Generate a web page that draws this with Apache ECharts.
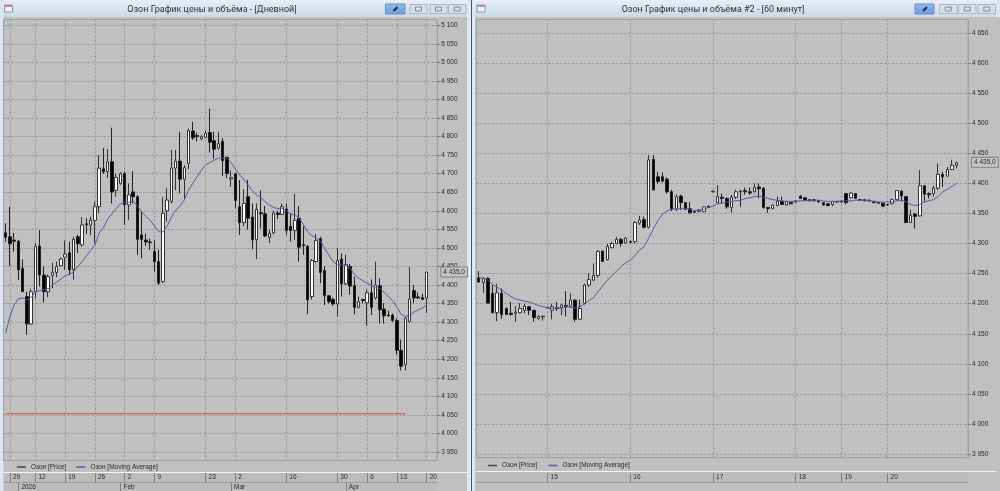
<!DOCTYPE html>
<html><head><meta charset="utf-8">
<style>html,body{margin:0;padding:0;background:#c0c0c0}#c{width:1000px;height:491px}</style>
<script src="https://cdn.jsdelivr.net/npm/echarts@6/dist/echarts.min.js"></script>
</head><body><div id="c"></div>
<script>
// rows: [open, close, low, high]
const dailyCandles = [
[4541,4529,4517,4566],[4530,4511,4451,4611],[4521,4518,4490,4540],[4518,4441,4414,4522],[4445,4382,4382,4469],
[4369,4295,4266,4382],[4295,4382,4292,4390],[4382,4504,4364,4513],[4505,4427,4396,4548],[4427,4382,4353,4450],
[4382,4423,4367,4428],[4426,4434,4391,4460],[4434,4450,4421,4463],[4452,4470,4450,4474],[4475,4483,4441,4520],
[4487,4441,4427,4517],[4441,4523,4414,4530],[4530,4511,4486,4535],[4508,4562,4503,4583],[4565,4562,4538,4580],
[4561,4575,4535,4584],[4574,4611,4512,4625],[4611,4715,4593,4750],[4713,4705,4699,4769],[4706,4732,4688,4766],
[4732,4651,4620,4824],[4655,4690,4638,4700],[4674,4700,4670,4704],[4700,4616,4562,4706],[4616,4643,4575,4674],
[4651,4638,4620,4707],[4638,4523,4481,4642],[4535,4523,4472,4598],[4521,4516,4505,4538],[4516,4514,4495,4525],
[4490,4463,4436,4520],[4463,4405,4400,4495],[4409,4593,4405,4637],[4600,4629,4571,4661],[4625,4715,4620,4764],
[4715,4734,4656,4764],[4734,4685,4647,4813],[4685,4716,4629,4723],[4728,4816,4712,4822],[4815,4797,4791,4840],
[4803,4800,4787,4810],[4794,4800,4790,4804],[4798,4809,4795,4816],[4811,4785,4757,4875],[4789,4766,4739,4813],
[4769,4781,4764,4813],[4787,4735,4694,4796],[4744,4700,4688,4746],[4686,4689,4665,4709],[4700,4628,4607,4702],
[4611,4568,4535,4683],[4568,4620,4559,4658],[4638,4580,4549,4683],[4583,4522,4496,4620],[4522,4604,4470,4620],
[4595,4592,4553,4655],[4592,4532,4530,4613],[4528,4539,4513,4549],[4541,4594,4536,4600],[4594,4590,4578,4600],
[4590,4611,4589,4620],[4605,4547,4535,4620],[4558,4547,4517,4594],[4547,4574,4522,4646],[4580,4502,4463,4613],
[4509,4506,4481,4558],[4504,4360,4322,4508],[4369,4466,4361,4470],[4463,4520,4460,4537],[4525,4434,4405,4530],
[4439,4371,4346,4450],[4371,4355,4350,4372],[4361,4349,4344,4366],[4349,4466,4315,4499],[4470,4403,4369,4485],
[4403,4455,4400,4482],[4450,4397,4374,4457],[4398,4340,4321,4423],[4340,4355,4337,4369],[4361,4358,4350,4363],
[4352,4379,4290,4388],[4379,4340,4319,4415],[4365,4400,4361,4463],[4398,4333,4296,4418],[4335,4317,4296,4351],
[4319,4317,4315,4331],[4319,4304,4301,4323],[4304,4224,4212,4310],[4224,4181,4170,4253],[4185,4311,4170,4315],
[4302,4362,4298,4448],[4385,4365,4351,4400],[4368,4365,4362,4380],[4366,4361,4359,4376],[4365,4435,4325,4435]
];
const dailyMA = [
4270,4315,4346,4363,4365,4360,4367,4381,4385,4387,4390,4400,4408,4416,4425,4429,4436,4450,4463,4478,
4493,4508,4540,4555,4578,4592,4606,4619,4621,4623,4626,4613,4597,4585,4574,4559,4544,4543,4559,4583,
4601,4613,4629,4655,4674,4692,4710,4723,4730,4736,4742,4742,4742,4730,4713,4697,4685,4670,4654,4643,
4636,4625,4616,4609,4606,4606,4600,4591,4590,4581,4563,4543,4533,4527,4519,4499,4481,4463,4455,4454,
4452,4445,4429,4419,4411,4405,4399,4393,4391,4380,4369,4358,4340,4321,4315,4319,4327,4333,4338,4346
];
const dailyTickIndex = [1,7,14,21,28,35,47,54,66,78,85,92,99];
const dailyTickLabels = ['29','12','19','26','2','9','23','2','16','30','6','13','20'];
const dailyMonthIndex = [3,27,53,80];
const dailyMonthLabels = ['2026','Feb','Mar','Apr'];
const dailySupportLevels = [4053,4053];
const dailySupportIndex = [0,94];
const dailyPriceTicks = [3950,4000,4050,4100,4150,4200,4250,4300,4350,4400,4450,4500,4550,4600,4650,4700,4750,4800,4850,4900,4950,5000,5050,5100];

const hourlyCandles = [
[4243,4236,4235,4254],[4235,4242,4218,4244],[4242,4201,4200,4244],[4217,4185,4184,4231],[4185,4218,4171,4233],
[4217,4182,4175,4225],[4192,4182,4181,4194],[4184,4182,4180,4203],[4184,4186,4170,4196],[4185,4192,4184,4201],
[4189,4196,4184,4200],[4195,4189,4181,4196],[4189,4177,4170,4190],[4175,4179,4174,4181],[4178,4179,4172,4180],
[4193,4194,4192,4195],[4189,4195,4174,4200],[4193,4192,4188,4203],[4193,4198,4181,4200],[4197,4195,4179,4221],
[4196,4206,4194,4217],[4206,4174,4170,4207],[4174,4192,4173,4207],[4201,4231,4199,4233],[4231,4240,4228,4251],
[4239,4247,4238,4267],[4247,4287,4243,4289],[4287,4270,4270,4289],[4273,4295,4272,4300],[4293,4300,4292,4303],
[4300,4307,4299,4311],[4307,4300,4295,4309],[4301,4309,4300,4311],[4303,4302,4301,4305],[4303,4335,4300,4337],
[4334,4339,4331,4346],[4340,4327,4325,4345],[4327,4439,4325,4447],[4440,4389,4389,4447],[4411,4403,4400,4419],
[4411,4404,4401,4418],[4407,4386,4383,4410],[4386,4357,4354,4389],[4357,4378,4354,4382],[4379,4368,4356,4381],
[4368,4357,4356,4369],[4358,4351,4350,4369],[4353,4352,4351,4354],[4353,4356,4352,4357],[4353,4361,4352,4362],
[4362,4360,4359,4363],[4386,4387,4385,4388],[4368,4378,4367,4397],[4377,4375,4367,4383],[4375,4361,4358,4377],
[4360,4377,4351,4381],[4377,4386,4374,4389],[4387,4386,4361,4389],[4388,4386,4381,4393],[4386,4384,4381,4393],
[4386,4393,4385,4400],[4394,4391,4375,4400],[4392,4360,4358,4394],[4360,4358,4351,4361],[4358,4364,4357,4365],
[4363,4370,4362,4378],[4370,4365,4364,4378],[4364,4370,4363,4371],[4368,4366,4365,4369],[4369,4371,4368,4372],
[4379,4375,4374,4380],[4376,4372,4371,4377],[4373,4371,4370,4374],[4373,4371,4370,4374],[4371,4369,4368,4372],
[4368,4364,4363,4369],[4366,4363,4362,4367],[4365,4370,4362,4371],[4370,4369,4368,4371],[4370,4369,4368,4371],
[4383,4368,4365,4384],[4376,4384,4375,4385],[4383,4375,4374,4384],[4373,4372,4371,4374],[4373,4371,4370,4374],
[4372,4371,4370,4373],[4370,4368,4367,4371],[4368,4367,4366,4369],[4367,4362,4361,4368],[4365,4364,4363,4366],
[4366,4373,4365,4375],[4373,4388,4372,4389],[4387,4379,4370,4389],[4378,4335,4334,4379],[4335,4347,4334,4356],
[4349,4345,4325,4351],[4346,4396,4345,4422],[4396,4382,4370,4397],[4383,4381,4375,4385],[4383,4392,4378,4396],
[4392,4415,4389,4433],[4415,4411,4394,4419],[4412,4423,4411,4427],[4423,4430,4422,4439],[4430,4434,4425,4436]
];
const hourlyMA = [
4243,4242,4239,4232,4228,4222,4217,4212,4208,4206,4204,4203,4200,4197,4195,4193,4192,4193,4193,4195,
4194,4193,4195,4199,4205,4210,4220,4230,4239,4247,4254,4262,4268,4272,4280,4289,4295,4309,4324,4338,
4349,4354,4357,4358,4358,4358,4357,4355,4355,4357,4360,4362,4366,4367,4369,4370,4371,4372,4375,4376,
4378,4379,4377,4375,4373,4372,4371,4370,4370,4370,4371,4371,4372,4372,4372,4371,4370,4370,4370,4371,
4371,4371,4372,4372,4372,4371,4370,4369,4369,4369,4369,4371,4372,4370,4365,4363,4365,4369,4371,4373,
4378,4386,4390,4395,4400
];
const hourlyTickIndex = [15,33,51,69,79,89];
const hourlyTickLabels = ['15','16','17','18','19','20'];
const hourlyPriceTicks = [3950,4000,4050,4100,4150,4200,4250,4300,4350,4400,4450,4500,4550,4600,4650];
const lastPrice = 4435;
const lastPriceLabel = '4 435,0';

const dailyBands = 102, hourlyBands = 107;
const priceName = 'Озон [Price]', maName = 'Озон [Moving Average]';
const dailyTitle = 'Озон График цены и объёма - [Дневной]';
const hourlyTitle = 'Озон График цены и объёма #2 - [60 минут]';

const FONT = '"Liberation Sans",sans-serif';
const TXT = '#2a2a2a';
const GRID = '#949494';
const MA = '#5a58a8';
const range = n => Array.from({length:n},(_,i)=>String(i));
const fmtTick = v => { const s = String(v); return s.slice(0,1)+' '+s.slice(1); };

function xAxes(grid, bands, tickIdx, tickLbl, monthIdx, monthLbl, stripOffset){
  const inT = i => tickIdx.includes(+i);
  const axes = [{
    type:'category',gridIndex:grid,data:range(bands),
    axisLine:{show:true,lineStyle:{color:'#a2a2a2'}},axisTick:{show:false},axisLabel:{show:false},
    splitLine:{show:true,alignWithLabel:true,interval:inT,lineStyle:{color:GRID,type:[2,2],width:1}}
  },{
    type:'category',gridIndex:grid,position:'bottom',offset:stripOffset,data:range(bands),
    axisLine:{show:false},
    axisTick:{show:true,alignWithLabel:true,length:9,interval:inT,lineStyle:{color:'#808080'}},
    axisLabel:{show:true,interval:inT,margin:1,align:'left',padding:[0,0,0,3],fontSize:6.5,fontFamily:FONT,color:TXT,
      formatter:(v)=>tickLbl[tickIdx.indexOf(+v)]}
  }];
  if(monthIdx){
    const inM = i => monthIdx.includes(+i);
    axes.push({
      type:'category',gridIndex:grid,position:'bottom',offset:stripOffset+9.5,data:range(bands),
      axisLine:{show:false},
      axisTick:{show:true,alignWithLabel:true,length:9,interval:inM,lineStyle:{color:'#808080'}},
      axisLabel:{show:true,interval:inM,margin:1,align:'left',padding:[0,0,0,3],fontSize:6.5,fontFamily:FONT,color:TXT,
        formatter:(v)=>monthLbl[monthIdx.indexOf(+v)]}
    });
  }
  return axes;
}
function yAxis(grid,min,max,ticks){
  return {type:'value',gridIndex:grid,position:'right',min,max,
    axisLine:{show:true,lineStyle:{color:'#a2a2a2'}},
    axisTick:{show:true,length:3,customValues:ticks,lineStyle:{color:'#808080'}},
    axisLabel:{margin:4,fontSize:6.5,fontFamily:FONT,color:TXT,customValues:ticks,formatter:fmtTick},
    splitLine:{show:true,lineStyle:{color:GRID,type:[2,2],width:1}}};
}
const candleStyle = {color:'#ffffff',color0:'#000000',borderColor:'#333333',borderColor0:'#222222',borderWidth:1};
const tag = {
  symbol:'none',silent:true,animation:false,
  data:[{yAxis:lastPrice}],
  lineStyle:{color:'transparent',width:0,opacity:1},
  label:{show:true,position:'end',distance:4,opacity:1,formatter:()=>lastPriceLabel,fontSize:6.5,fontFamily:FONT,color:TXT,
    borderColor:'#808080',borderWidth:1,padding:[1,2,1,2],backgroundColor:'#c4c4c4'}
};
const xa = [].concat(
  xAxes(0,dailyBands,dailyTickIndex,dailyTickLabels,dailyMonthIndex,dailyMonthLabels,12.5),
  xAxes(1,hourlyBands,hourlyTickIndex,hourlyTickLabels,null,null,15.3)
);
const hourlyX = 3;

// window chrome
const R = (x,y,w,h,fill,z,stroke)=>({type:'rect',silent:true,z:z||0,shape:{x,y,width:w,height:h},style:{fill,stroke:stroke||null,lineWidth:stroke?1:0}});
const bar = {type:'linear',x:0,y:0,x2:0,y2:1,colorStops:[{offset:0,color:'#e6eef7'},{offset:1,color:'#ccd8e6'}]};
const blue = {type:'linear',x:0,y:0,x2:0,y2:1,colorStops:[{offset:0,color:'#8fbaf0'},{offset:1,color:'#6d9de0'}]};
const chrome = [
  R(0,0,1000,17,bar,-5),
  R(0,0,3.5,491,'#dbe6f2',-5), R(467,0,8,491,'#dfe9f4',-5), R(471,0,1,491,'#50555c',-4),
  R(996,0,4,17,'#dbe6f2',-5),
  R(4,472,463,1,'#f4f4f4',-3), R(476,471,520,1,'#f4f4f4',-3),
  R(4,482,433,1,'#9c9c9c',-3), R(476,482,492,1,'#9c9c9c',-3),
  R(4,473,433,9,'#bcbcbc',-4), R(476,472,492,10,'#bcbcbc',-4),
  R(4,483,433,8,'#bcbcbc',-4)
];
[[385.5,4,19.5,10],[915,4,19,10]].forEach(b=>{
  chrome.push(R(b[0],b[1],b[2],b[3],blue,1,'#6f8fba'));
  chrome.push({type:'line',silent:true,z:2,shape:{x1:b[0]+8,y1:b[1]+7,x2:b[0]+12,y2:b[1]+3},style:{stroke:'#1d2a44',lineWidth:2}});
});
[[410,17],[430,17],[448.5,17.5],[939.5,17.5],[958.5,17.5],[978,17.5]].forEach(b=>{
  chrome.push(R(b[0],4.5,b[1],9,'#d6e0ec',1,'#a9b6c6'));
  chrome.push(R(b[0]+b[1]/2-3,7,6,4,'#d6e0ec',2,'#7f8a98'));
});
[3.5,476].forEach(x=>{
  chrome.push(R(x+1,5,8,7,'#eef3f9',1,'#8494a8'));
  chrome.push(R(x+1,5,8,2,'#c98d8d',2));
});

const legendText = {fontSize:6.5,color:TXT,fontFamily:FONT};
const legendData = [{name:priceName,itemStyle:{color:'#444',borderWidth:0}},{name:maName,itemStyle:{color:MA,borderWidth:0}}];
const titleText = {fontSize:9,fontWeight:'normal',color:'#333',fontFamily:'Roboto,sans-serif'};

const chart = echarts.init(document.getElementById('c'),null,{renderer:'canvas'});
chart.setOption({
  animation:false,
  backgroundColor:'#c0c0c0',
  textStyle:{fontFamily:FONT},
  title:[
    {text:dailyTitle,left:212,top:5.5,padding:0,textAlign:'center',textStyle:titleText},
    {text:hourlyTitle,left:713,top:5.5,padding:0,textAlign:'center',textStyle:titleText}
  ],
  legend:[
    {left:17,top:463.5,padding:0,itemWidth:9,itemHeight:1.5,itemGap:10,icon:'rect',selectedMode:false,textStyle:legendText,data:legendData},
    {left:488,top:462,padding:0,itemWidth:9,itemHeight:1.5,itemGap:11,icon:'rect',selectedMode:false,textStyle:legendText,data:legendData}
  ],
  grid:[
    {left:3.5,width:433.8,top:19.5,height:441,show:true,backgroundColor:'#c0c0c0',borderColor:'#a2a2a2',borderWidth:1},
    {left:476.4,width:491.6,top:19.5,height:438.2,show:true,backgroundColor:'#c0c0c0',borderColor:'#a2a2a2',borderWidth:1}
  ],
  xAxis:xa,
  yAxis:[yAxis(0,3927,5115.6,dailyPriceTicks),yAxis(1,3944,4672.4,hourlyPriceTicks)],
  series:[
    {name:'support',type:'line',xAxisIndex:0,yAxisIndex:0,showSymbol:false,lineStyle:{color:'#d8483a',width:1.2},
     data:dailySupportIndex.map((x,i)=>[String(x),dailySupportLevels[i]]),z:2},
    {name:priceName,type:'candlestick',xAxisIndex:0,yAxisIndex:0,barWidth:3,data:dailyCandles,itemStyle:candleStyle},
    {name:maName,type:'line',xAxisIndex:0,yAxisIndex:0,data:dailyMA,showSymbol:false,lineStyle:{color:MA,width:1},itemStyle:{color:MA},z:3,markLine:tag},
    {name:priceName,type:'candlestick',xAxisIndex:hourlyX,yAxisIndex:1,barWidth:3,data:hourlyCandles,itemStyle:candleStyle},
    {name:maName,type:'line',xAxisIndex:hourlyX,yAxisIndex:1,data:hourlyMA,showSymbol:false,lineStyle:{color:MA,width:1},itemStyle:{color:MA},z:3,markLine:tag}
  ],
  graphic:{elements:chrome}
});
</script></body></html>
